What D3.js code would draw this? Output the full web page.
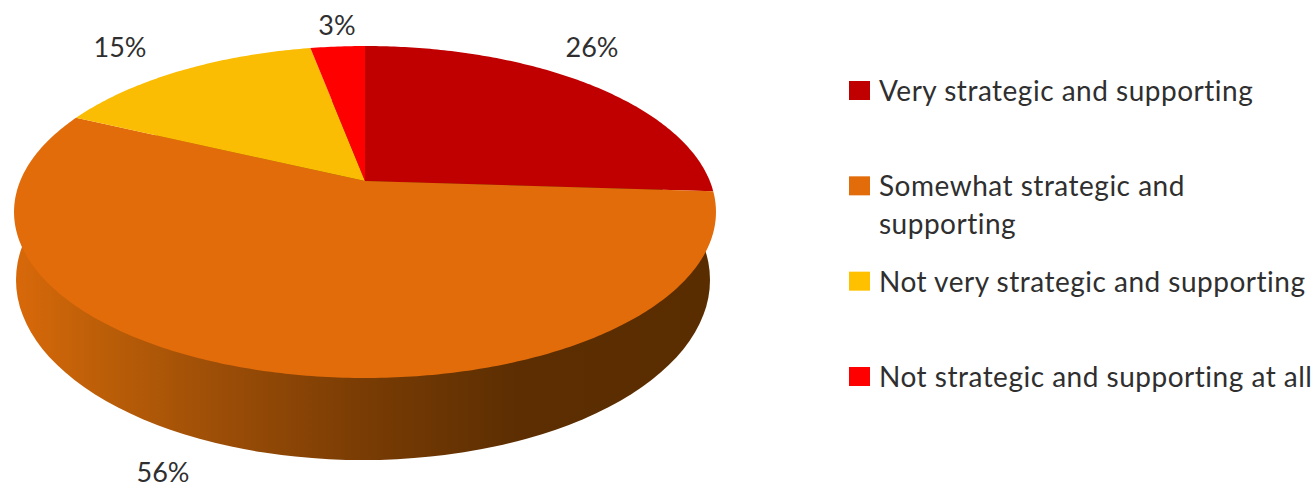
<!DOCTYPE html>
<html>
<head>
<meta charset="utf-8">
<script src="https://cdn.jsdelivr.net/npm/d3@7"></script>
<style>
  html, body { margin: 0; background: #fff; }
  svg { display: block; }
  text { font-family: Lato, "Open Sans", sans-serif; fill: #2f2f2f; }
</style>
</head>
<body>
<svg id="chart" width="1316" height="488"></svg>
<script>
// Survey shares, in slice order clockwise from twelve o'clock
const categories = [
  "Very strategic and supporting",
  "Somewhat strategic and supporting",
  "Not very strategic and supporting",
  "Not strategic and supporting at all"
];
const shares = [26, 56, 15, 3];
const shareLabels = ["26%", "56%", "15%", "3%"];
const sliceColors = ["#c00000", "#e26b0a", "#fbbc04", "#ff0000"];
const legendColors = ["#c00000", "#e26b0a", "#ffc000", "#ff0000"];
const legendLines = [
  ["Very strategic and supporting"],
  ["Somewhat strategic and", "supporting"],
  ["Not very strategic and supporting"],
  ["Not strategic and supporting at all"]
];

const svg = d3.select("#chart");

// Tilted disc: a unit circle seen in perspective, so the hub sits above the
// middle of the ellipse and the near half looks larger than the far half.
const hub = { x: 365, y: 181 };
const tilt = { a: 344.8, b: 160.2, k: -0.1867 };
const project = angle => {
  const u = Math.sin(angle), v = -Math.cos(angle);
  const d = 1 + tilt.k * v;
  return [hub.x + tilt.a * u / d, hub.y + tilt.b * v / d];
};

// Lower rim of the disc's edge wall
const rim = { cx: 363, cy: 280, rx: 347, ry: 180 };

const pie = d3.pie().sort(null).value(d => d);
const arcs = pie(shares);
const line = d3.line();

// Edge wall, lit from the left and falling into shadow on the right
const defs = svg.append("defs");
const wallX = d3.scaleLinear().domain([0, 1]).range([13, 715]);
const wallGradient = defs.append("linearGradient")
  .attr("id", "wall")
  .attr("gradientUnits", "userSpaceOnUse")
  .attr("x1", wallX(0)).attr("x2", wallX(1))
  .attr("y1", 0).attr("y2", 0);
wallGradient.selectAll("stop")
  .data([
    [0, "#d9690a"], [0.12, "#bd5f08"], [0.3, "#9b4d07"],
    [0.5, "#793c04"], [0.72, "#5c2e02"], [1, "#5a2d00"]
  ])
  .join("stop")
  .attr("offset", d => d[0])
  .attr("stop-color", d => d[1]);

svg.append("ellipse")
  .attr("cx", rim.cx).attr("cy", rim.cy)
  .attr("rx", rim.rx).attr("ry", rim.ry)
  .attr("fill", "url(#wall)");

// Top face: each wedge follows the projected circle between its pie angles
svg.append("g").selectAll("path")
  .data(arcs)
  .join("path")
  .attr("fill", (d, i) => sliceColors[i])
  .attr("d", d => {
    const n = Math.max(2, Math.ceil((d.endAngle - d.startAngle) * 80));
    const along = d3.scaleLinear().domain([0, n]).range([d.startAngle, d.endAngle]);
    const edge = d3.range(n + 1).map(i => project(along(i)));
    return line([[hub.x, hub.y], ...edge]) + "Z";
  });

// Percentage labels around the disc
const labelSpots = [[592, 57], [163, 482], [120, 57], [337, 35]];
svg.append("g").selectAll("text")
  .data(shareLabels)
  .join("text")
  .attr("x", (d, i) => labelSpots[i][0])
  .attr("y", (d, i) => labelSpots[i][1])
  .attr("text-anchor", "middle")
  .attr("font-size", 27)
  .text(d => d);

// Legend rows are evenly spaced down the right side
const rowY = d3.scalePoint().domain(categories).range([101, 387]);
const legend = svg.append("g").selectAll("g")
  .data(categories)
  .join("g")
  .attr("transform", d => `translate(0,${rowY(d)})`);

legend.append("rect")
  .attr("x", 849).attr("y", -20)
  .attr("width", 21).attr("height", 19)
  .attr("fill", (d, i) => legendColors[i]);

legend.each(function (d, i) {
  d3.select(this).selectAll("text")
    .data(legendLines[i])
    .join("text")
    .attr("x", 879)
    .attr("y", (t, j) => j * 38)
    .attr("font-size", 28)
    .attr("letter-spacing", 0.5)
    .text(t => t);
});
</script>
</body>
</html>
